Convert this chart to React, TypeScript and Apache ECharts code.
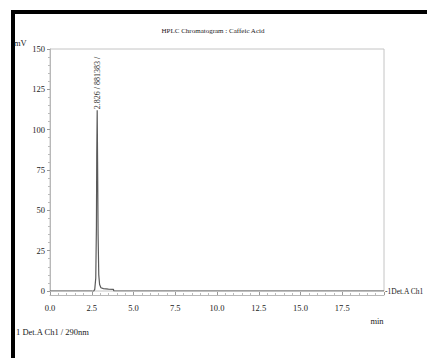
import React, { useEffect, useRef } from "react";
import * as echarts from "echarts";

const timeMin: number[] = [0, 2.5, 2.6, 2.68, 2.74, 2.78, 2.8, 2.826, 2.85, 2.88, 2.92, 2.97, 3.05, 3.2, 3.5, 3.8, 3.82, 20];
const signalMv: number[] = [0, 0, -0.3, 1, 8, 40, 85, 112, 80, 35, 10, 4, 2, 1.5, 1.2, 1, 0, 0];
const xTicks: number[] = [0, 2.5, 5, 7.5, 10, 12.5, 15, 17.5];
const yTicks: number[] = [0, 25, 50, 75, 100, 125, 150];
const peakTime = 2.826;
const peakArea = 881383;

const SERIF = "'Liberation Serif', 'DejaVu Serif', serif";
const INK = "#1a1a1a";

export default function App() {
  const ref = useRef<HTMLDivElement>(null);
  useEffect(() => {
    if (!ref.current) return;
    const chart = echarts.init(ref.current, undefined, { renderer: "svg" });
    const data = timeMin.map((t, i) => {
      const item: any = { value: [t, signalMv[i]] };
      if (t === peakTime) {
        item.label = {
          show: true,
          formatter: `${peakTime} / ${peakArea} /`,
          rotate: 90,
          position: "top",
          distance: 1,
          align: "left",
          verticalAlign: "middle",
          fontFamily: SERIF,
          fontSize: 8,
          color: "#333",
        };
      }
      return item;
    });
    chart.setOption({
      animation: false,
      backgroundColor: "#fff",
      textStyle: { fontFamily: SERIF, color: INK },
      grid: {
        left: 50,
        top: 49,
        right: 43,
        bottom: 67,
        show: true,
        borderColor: "#c4c4c4",
        borderWidth: 1,
      },
      xAxis: {
        type: "value",
        min: 0,
        max: 20,
        interval: 2.5,
        offset: 4,
        axisLine: { show: true, onZero: false, lineStyle: { color: "#b8b8b8", width: 1 } },
        axisTick: { show: true, length: 3, inside: true, lineStyle: { color: "#999" } },
        minorTick: { show: true, splitNumber: 5, length: 2, lineStyle: { color: "#bbb" } },
        splitLine: { show: false },
        axisLabel: {
          margin: 8,
          fontFamily: SERIF,
          fontSize: 8.5,
          color: INK,
          showMaxLabel: false,
          formatter: (v: number) => (xTicks.includes(v) ? v.toFixed(1) : ""),
        },
      },
      yAxis: {
        type: "value",
        min: 0,
        max: 150,
        interval: 25,
        axisLine: { show: true, lineStyle: { color: "#b8b8b8", width: 1 } },
        axisTick: { show: true, length: 3, lineStyle: { color: "#999" } },
        minorTick: { show: true, splitNumber: 5, length: 2, lineStyle: { color: "#bbb" } },
        splitLine: { show: false },
        axisLabel: {
          margin: 5,
          fontFamily: SERIF,
          fontSize: 8.5,
          color: INK,
          formatter: (v: number) => (yTicks.includes(v) ? String(v) : ""),
        },
      },
      series: [
        {
          type: "line",
          data,
          showSymbol: true,
          symbol: "circle",
          symbolSize: 0,
          lineStyle: { color: "#5a5a5a", width: 1.2 },
          itemStyle: { color: "#5a5a5a" },
          z: 3,
        },
      ],
      graphic: [
        { type: "rect", shape: { x: 11, y: 10, width: 416, height: 4 }, style: { fill: "#000" } },
        { type: "rect", shape: { x: 11, y: 10, width: 4, height: 348 }, style: { fill: "#000" } },
        {
          type: "text",
          x: 213,
          y: 31,
          style: {
            text: "HPLC Chromatogram : Caffeic Acid",
            fontFamily: SERIF,
            fontSize: 7,
            fill: INK,
            align: "center",
            verticalAlign: "middle",
          },
        },
        {
          type: "text",
          x: 14,
          y: 43,
          style: { text: "mV", fontFamily: SERIF, fontSize: 8.5, fill: INK, verticalAlign: "middle" },
        },
        {
          type: "text",
          x: 377,
          y: 321,
          style: { text: "min", fontFamily: SERIF, fontSize: 8.5, fill: INK, align: "center", verticalAlign: "middle" },
        },
        {
          type: "text",
          x: 16,
          y: 332,
          style: { text: "1 Det.A Ch1 / 290nm", fontFamily: SERIF, fontSize: 8.5, fill: INK, verticalAlign: "middle" },
        },
        {
          type: "text",
          x: 385,
          y: 291,
          style: { text: "-1Det.A Ch1", fontFamily: SERIF, fontSize: 7.5, fill: INK, verticalAlign: "middle" },
        },
      ],
    });
    return () => chart.dispose();
  }, []);
  return (
    <div
      ref={ref}
      style={{ position: "fixed", left: 0, top: 0, width: 427, height: 358, background: "#fff" }}
    />
  );
}
